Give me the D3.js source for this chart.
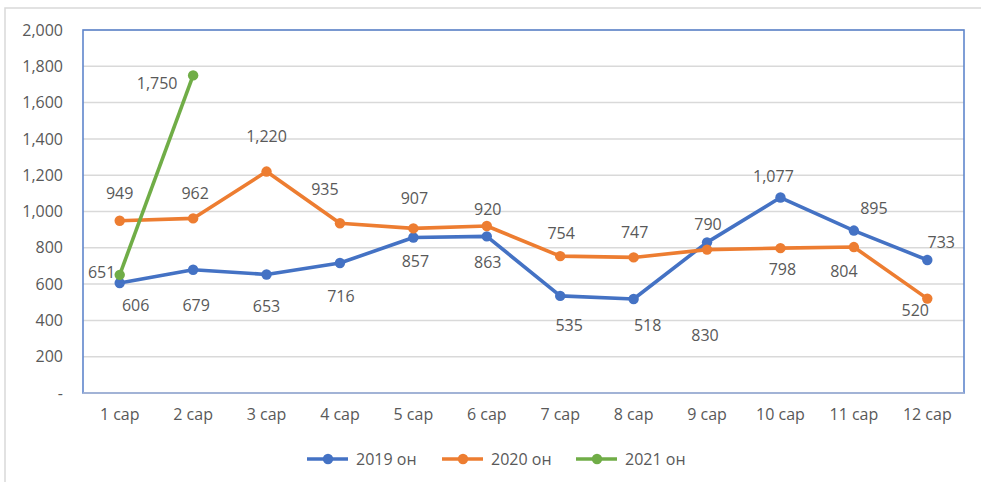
<!DOCTYPE html>
<html><head><meta charset="utf-8">
<script src="https://cdn.jsdelivr.net/npm/d3@7"></script>
<style>
html,body{margin:0;padding:0;background:#fff;}
svg text{font-family:"Open Sans","Noto Sans",sans-serif;fill:#595959;}
</style></head>
<body>
<svg id="c" width="981" height="482"></svg>
<script>
// ---- data ----
const categories = ["1 сар","2 сар","3 сар","4 сар","5 сар","6 сар","7 сар","8 сар","9 сар","10 сар","11 сар","12 сар"];
const seriesNames = ["2019 он","2020 он","2021 он"];
const values2019 = [606,679,653,716,857,863,535,518,830,1077,895,733];
const values2020 = [949,962,1220,935,907,920,754,747,790,798,804,520];
const values2021 = [651,1750];
const yTicks = [0,200,400,600,800,1000,1200,1400,1600,1800,2000];

// ---- label placement (layout, offsets from point in px) ----
const labelOffsets = [
  [[16,22],[3,35],[0,32],[1,33],[2,24],[1,26],[9,29],[14,26],[-2,93],[-7,-22],[20,-23],[14,-18]],
  [[0,-28],[2,-25],[0,-36],[-15,-34],[1,-30],[1,-17],[1,-23],[1,-25],[1,-26],[2,21],[-10,24],[-12,11]],
  [[-18,-3],[-36,8]]
];
const colors = ["#4472C4","#ED7D31","#70AD47"];
const fs = 16;

const svg = d3.select("#c");
const m = {l:83, t:30, r:964, b:393};

// outer frame
svg.append("rect").attr("x",5).attr("y",8).attr("width",1000).attr("height",500)
  .attr("fill","none").attr("stroke","#d9d9d9").attr("stroke-width",1.5);

const x = d3.scaleBand().domain(categories).range([m.l,m.r]).padding(0);
const y = d3.scaleLinear().domain([0,2000]).range([m.b,m.t]);
const cx = c => x(c)+x.bandwidth()/2;

// gridlines
svg.append("g").selectAll("line").data(yTicks.filter(d=>d>0)).join("line")
  .attr("x1",m.l).attr("x2",m.r).attr("y1",d=>y(d)).attr("y2",d=>y(d))
  .attr("stroke","#d9d9d9").attr("stroke-width",1.5);

// y axis labels
const fmt = d3.format(",");
const yAxis = d3.axisLeft(y).tickValues(yTicks).tickSize(0).tickPadding(20)
  .tickFormat(d=> d===0 ? "-" : fmt(d));
const gy = svg.append("g").attr("transform",`translate(${m.l},0)`).call(yAxis);
gy.select(".domain").remove();
gy.selectAll("text").attr("font-size",fs).attr("fill","#595959")
  .style("font-family","'Open Sans',sans-serif");

// x axis labels
const xAxis = d3.axisBottom(x).tickSize(0).tickPadding(16);
const gx = svg.append("g").attr("transform",`translate(0,${m.b})`).call(xAxis);
gx.select(".domain").remove();
gx.selectAll("text").attr("font-size",fs).attr("fill","#595959")
  .style("font-family","'Open Sans',sans-serif");

// plot border
svg.append("rect").attr("x",m.l).attr("y",m.t).attr("width",m.r-m.l).attr("height",m.b-m.t)
  .attr("fill","none").attr("stroke","#5f86cc").attr("stroke-width",1.6);
svg.append("line").attr("x1",m.l).attr("x2",m.r).attr("y1",m.b).attr("y2",m.b)
  .attr("stroke","#aebad6").attr("stroke-width",1.6);

const allSeries = [values2019, values2020, values2021];
const line = d3.line().x((d,i)=>cx(categories[i])).y(d=>y(d));

allSeries.forEach((vals,si)=>{
  const g = svg.append("g");
  g.append("path").datum(vals).attr("d",line).attr("fill","none")
    .attr("stroke",colors[si]).attr("stroke-width",3.6).attr("stroke-linejoin","round");
  g.selectAll("circle").data(vals).join("circle")
    .attr("cx",(d,i)=>cx(categories[i])).attr("cy",d=>y(d)).attr("r",5.2)
    .attr("fill",colors[si]);
});

// data labels drawn after all lines
allSeries.forEach((vals,si)=>{
  svg.append("g").selectAll("text").data(vals).join("text")
    .attr("x",(d,i)=>cx(categories[i])+labelOffsets[si][i][0])
    .attr("y",(d,i)=>y(d)+labelOffsets[si][i][1])
    .attr("text-anchor","middle").attr("dominant-baseline","central")
    .attr("font-size",fs).attr("fill","#404040")
    .text(d=>fmt(d));
});

// legend
const legX = [307,442,576];
const leg = svg.append("g");
seriesNames.forEach((n,i)=>{
  const lx = legX[i], ly = 459;
  leg.append("line").attr("x1",lx).attr("x2",lx+41).attr("y1",ly).attr("y2",ly)
    .attr("stroke",colors[i]).attr("stroke-width",3.6);
  leg.append("circle").attr("cx",lx+21).attr("cy",ly).attr("r",5.2).attr("fill",colors[i]);
  leg.append("text").attr("x",lx+49).attr("y",ly).attr("dominant-baseline","central")
    .attr("font-size",fs).attr("fill","#595959").text(n);
});
</script>
</body></html>
